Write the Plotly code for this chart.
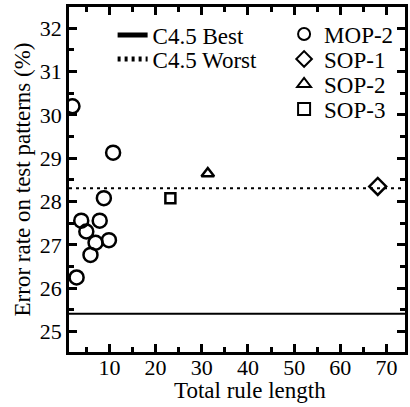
import plotly.graph_objects as go

# Rule-length vs. error-rate results
mop2_len = [2.0, 10.8, 8.8, 3.9, 7.9, 5.0, 7.0, 9.9, 5.9, 2.9]
mop2_err = [30.20, 29.13, 28.08, 27.56, 27.56, 27.31, 27.05, 27.11, 26.77, 26.25]
sop1_len = [68.1]
sop1_err = [28.35]
sop2_len = [31.3]
sop2_err = [28.65]
sop3_len = [23.2]
sop3_err = [28.08]

c45_best = 25.41
c45_worst = 28.31

x_range = [1.25, 74.0]
y_range = [24.53, 32.49]
x_ticks = [10, 20, 30, 40, 50, 60, 70]
y_ticks = [25, 26, 27, 28, 29, 30, 31, 32]

FONT = "Liberation Serif"
W, H = 410, 407
ML, MR, MT, MB = 69, 2, 7, 55
PW, PH = W - ML - MR, H - MT - MB


def px_x(p):
    return (p - ML) / PW


def px_y(p):
    return (H - MB - p) / PH


fig = go.Figure()

fig.add_trace(go.Scatter(
    x=x_range, y=[c45_best, c45_best], mode="lines", name="C4.5 Best",
    line=dict(color="black", width=2), legend="legend", cliponaxis=False))
fig.add_trace(go.Scatter(
    x=x_range, y=[c45_worst, c45_worst], mode="lines", name="C4.5 Worst",
    line=dict(color="black", width=2, dash="3px,4px"), legend="legend2",
    cliponaxis=False))

mk_line = dict(color="black", width=2.5)
fig.add_trace(go.Scatter(
    x=mop2_len, y=mop2_err, mode="markers", name="MOP-2", legend="legend3",
    marker=dict(symbol="circle-open", size=14, color="black", line=mk_line)))
fig.add_trace(go.Scatter(
    x=sop1_len, y=sop1_err, mode="markers", name="SOP-1", legend="legend4",
    marker=dict(symbol="diamond-open", size=13, color="black", line=mk_line)))
fig.add_trace(go.Scatter(
    x=sop2_len, y=sop2_err, mode="markers", name="SOP-2", legend="legend5",
    marker=dict(symbol="triangle-up-open", size=11, color="black", line=mk_line)))
fig.add_trace(go.Scatter(
    x=sop3_len, y=sop3_err, mode="markers", name="SOP-3", legend="legend6",
    marker=dict(symbol="square-open", size=10, color="black", line=mk_line)))


def leg(x_px, y_px):
    return dict(x=px_x(x_px), y=px_y(y_px), xanchor="left", yanchor="middle",
                bgcolor="rgba(0,0,0,0)", borderwidth=0,
                font=dict(family=FONT, size=23, color="black"),
                itemsizing="constant", visible=True)


def axis(rng, ticks, minor_dtick):
    return dict(
        range=rng, tickvals=ticks,
        showline=True, linecolor="black", linewidth=2.5, mirror="allticks",
        ticks="inside", tickcolor="black", tickwidth=2.5, ticklen=8,
        showgrid=False, zeroline=False,
        tickfont=dict(family=FONT, size=22, color="black"),
        minor=dict(ticks="inside", ticklen=5, tickwidth=2.5, tickcolor="black",
                   showgrid=False, dtick=minor_dtick, tick0=0),
    )


xaxis = axis(x_range, x_ticks, 5)
xaxis["ticklabelstandoff"] = -6

yaxis = axis(y_range, y_ticks, 0.5)
yaxis["title"] = dict(text="Error rate on test patterns (%)", standoff=3,
                      font=dict(family=FONT, size=23, color="black"))

fig.update_layout(
    width=W, height=H,
    margin=dict(l=ML, r=MR, t=MT, b=MB),
    plot_bgcolor="white", paper_bgcolor="white",
    font=dict(family=FONT, color="black"),
    showlegend=True,
    xaxis=xaxis,
    yaxis=yaxis,
    legend=leg(113, 35),
    legend2=leg(113, 59),
    legend3=leg(286, 34),
    legend4=leg(286, 59),
    legend5=leg(286, 84),
    legend6=leg(286, 109),
    annotations=[dict(
        text="Total rule length", xref="paper", yref="paper",
        x=px_x(252), y=px_y(390), xanchor="center", yanchor="middle",
        showarrow=False, font=dict(family=FONT, size=23, color="black"))],
)

fig.write_html("out.html")
